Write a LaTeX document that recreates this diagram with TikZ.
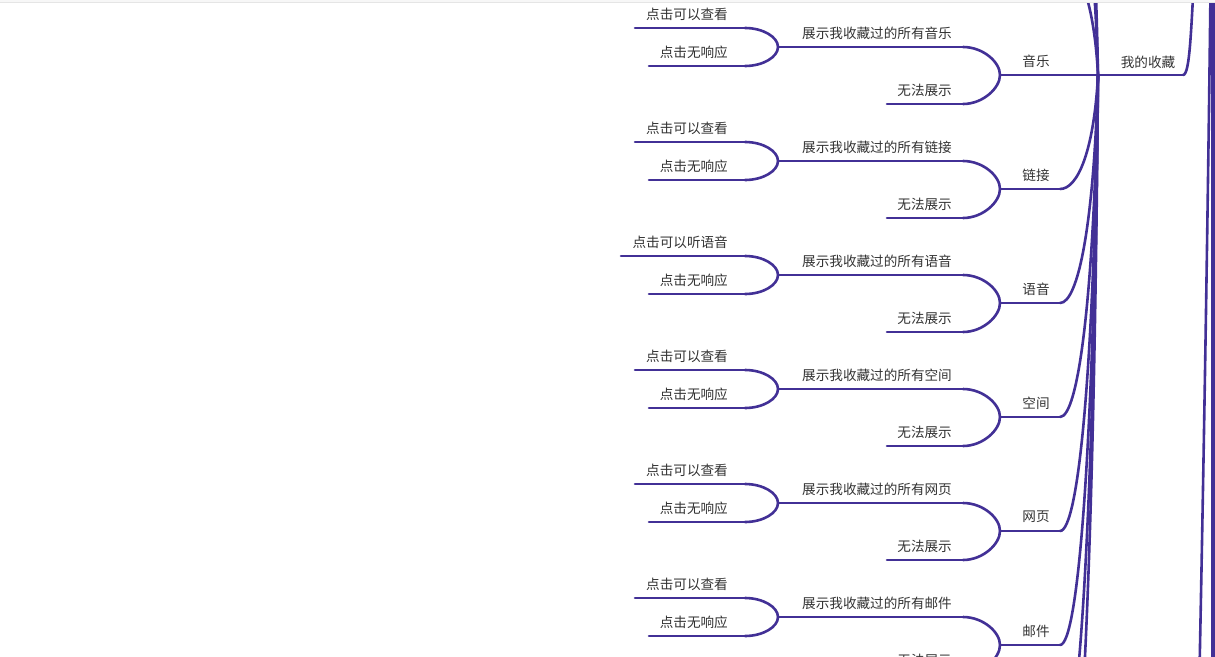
\documentclass[tikz,border=0pt]{standalone}
\usepackage{fontspec}
\setmainfont{Noto Sans CJK SC}
\definecolor{br}{RGB}{66,48,150}
\definecolor{tx}{RGB}{51,51,51}
\tikzset{
  conn/.style={draw=br,line width=2.6pt,line cap=round},
  lbl/.style={text=tx,font=\fontsize{13.6}{14}\selectfont,inner sep=0pt},
}
\newcommand\mgroup[5]{%
  \node[lbl] (#1) at (1036,{#2-14}) {#3};
  \coordinate (#1L) at (1000,#2); \coordinate (#1R) at (1060,#2);
  \draw[conn] (#1L) -- (#1R);
  \draw[conn] (hub) .. controls (1094,{75+0.66*(#2-75)}) and (1078,#2) .. (#1R);
  \node[lbl,anchor=east] (#1s) at (952,{#2-42}) {#4};
  \coordinate (#1sL) at (778,{#2-28}); \coordinate (#1sR) at (963,{#2-28});
  \draw[conn] (#1sL) -- (#1sR);
  \draw[conn] (#1L) .. controls (1000,{#2-13}) and (983,{#2-28}) .. (#1sR);
  \node[lbl,anchor=east] (#1n) at (952,{#2+15}) {无法展示};
  \coordinate (#1nL) at (887,{#2+29}); \coordinate (#1nR) at (963,{#2+29});
  \draw[conn] (#1nL) -- (#1nR);
  \draw[conn] (#1L) .. controls (1000,{#2+13}) and (983,{#2+29}) .. (#1nR);
  \node[lbl,anchor=east] (#1a) at (728,{#2-61}) {#5};
  \coordinate (#1aL) at ({\leafleft},{#2-47}); \coordinate (#1aR) at (745,{#2-47});
  \draw[conn] (#1aL) -- (#1aR);
  \draw[conn] (#1sL) .. controls (778,{#2-38}) and (763,{#2-47}) .. (#1aR);
  \node[lbl,anchor=east] (#1b) at (728,{#2-23}) {点击无响应};
  \coordinate (#1bL) at (649,{#2-9}); \coordinate (#1bR) at (745,{#2-9});
  \draw[conn] (#1bL) -- (#1bR);
  \draw[conn] (#1sL) .. controls (778,{#2-18}) and (763,{#2-9}) .. (#1bR);
}
\begin{document}
\begin{tikzpicture}[x=1pt,y=-1pt]
\useasboundingbox (0,0) rectangle (1215,656);
\fill[white] (0,0) rectangle (1215,656);
\clip (0,0) rectangle (1215,656);
% root
\node[lbl] (root) at (1148,62) {我的收藏};
\coordinate (hub) at (1098,75);
\coordinate (rootR) at (1183,75);
\coordinate (up) at (1195,-40);
\draw[conn] (hub) -- (rootR);
\draw[conn] (rootR) .. controls (1190,75) and (1191,30) .. (up);
% off-screen siblings
\foreach \yy in {-39,-153,-267,759,873} {
  \coordinate (off) at (1060,\yy);
  \draw[conn] (hub) .. controls (1094,{75+0.66*(\yy-75)}) and (1078,\yy) .. (off);
}
\def\leafleft{635}
\mgroup{m}{75}{音乐}{展示我收藏过的所有音乐}{点击可以查看}
\mgroup{l}{189}{链接}{展示我收藏过的所有链接}{点击可以查看}
\def\leafleft{621}
\mgroup{v}{303}{语音}{展示我收藏过的所有语音}{点击可以听语音}
\def\leafleft{635}
\mgroup{k}{417}{空间}{展示我收藏过的所有空间}{点击可以查看}
\mgroup{w}{531}{网页}{展示我收藏过的所有网页}{点击可以查看}
\mgroup{e}{645}{邮件}{展示我收藏过的所有邮件}{点击可以查看}
% right edge lines
\coordinate (ra1) at (1210.5,-10); \coordinate (ra2) at (1199.5,670);
\draw[conn] (ra1) .. controls (1208,200) and (1204,450) .. (ra2);
\coordinate (rb1) at (1212.8,-10); \coordinate (rb2) at (1212.8,670);
\draw[conn,line width=4pt] (rb1) -- (rb2);
% top border
\fill[black!3] (0,0) rectangle (1215,2);
\draw[black!10,line width=1pt] (0,2.5) -- (1215,2.5);
\end{tikzpicture}
\end{document}
